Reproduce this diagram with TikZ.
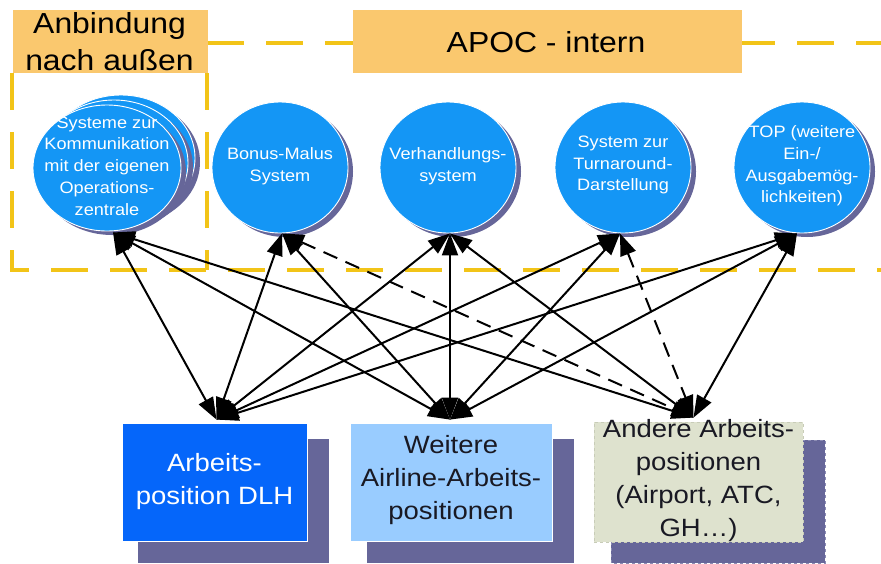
\documentclass[tikz,border=0pt]{standalone}
\usepackage{fontspec}
\setmainfont{Liberation Sans}[FakeStretch=1.1]
\usetikzlibrary{arrows.meta,shapes.geometric,calc}
\definecolor{circfill}{RGB}{20,150,245}
\definecolor{shad}{RGB}{102,102,153}
\definecolor{dlh}{RGB}{5,102,250}
\definecolor{weit}{RGB}{153,204,255}
\definecolor{andr}{RGB}{222,226,206}
\definecolor{labfill}{RGB}{250,200,110}
\definecolor{dashy}{RGB}{242,196,24}
\definecolor{darktext}{RGB}{25,25,35}
\definecolor{andrline}{RGB}{200,204,184}
\definecolor{shadline}{RGB}{140,140,180}
\tikzset{
  frame/.style={draw=dashy, line width=4.5pt, dash pattern=on 37pt off 22pt},
  labbox/.style={fill=labfill},
  labtext/.style={anchor=base, inner sep=0pt, text=black, font=\fontsize{29}{37}\selectfont},
  sysc/.style={ellipse, fill=circfill, draw=white, line width=0.9pt, inner sep=0pt,
               minimum width=136pt, minimum height=131pt},
  sysc1/.style={sysc, minimum width=148pt, minimum height=126pt},
  systext/.style={inner sep=0pt, align=center, text=white, font=\fontsize{16.5}{21.7}\selectfont},
  posbox/.style={rectangle, inner sep=0pt, draw=white, line width=0.8pt},
  postext/.style={inner sep=0pt, align=center, font=\fontsize{25}{33}\selectfont},
  link/.style={line width=2pt, {Triangle[length=22pt,width=16pt]}-{Triangle[length=22pt,width=16pt]}},
  dlink/.style={link, dash pattern=on 15pt off 9pt},
}
\begin{document}
\begin{tikzpicture}[x=1pt,y=-1pt]
\useasboundingbox (0,0) rectangle (881,563);
% dashed frames
\draw[frame] (12,73) -- (12,270) -- (881,270);
\draw[frame] (207,73) -- (207,270);
\draw[frame] (207,43) -- (881,43);
% labels
\fill[labbox] (13,10) rectangle (208,73);
\fill[labbox] (353,10) rectangle (742,73);
\node[labtext] (l1a) at (109.5,33) {Anbindung};
\node[labtext] (l1b) at (109.5,70) {nach außen};
\node[labtext] (l2) at (546,52) {APOC - intern};
% stacked circle (Systeme)
\fill[shad] (126,162) ellipse [x radius=74, y radius=63];
\node[sysc1] (c1c) at (121,158) {};
\fill[shad] (119,167) ellipse [x radius=74, y radius=63];
\node[sysc1] (c1b) at (114,163) {};
\fill[shad] (112,172) ellipse [x radius=74, y radius=63];
\node[sysc1] (c1) at (107,168) {};
\node[systext] (c1t) at (107,166) {Systeme zur\\Kommunikation\\mit der eigenen\\Operations-\\zentrale};
% other circles
\fill[shad] (285,171.5) ellipse [x radius=68, y radius=65.5];
\node[sysc] (c2) at (280,167.5) {};
\node[systext] (c2t) at (280,166) {Bonus-Malus\\System};
\fill[shad] (453,171.5) ellipse [x radius=68, y radius=65.5];
\node[sysc] (c3) at (448,167.5) {};
\node[systext] (c3t) at (448,166) {Verhandlungs-\\system};
\fill[shad] (628,171.5) ellipse [x radius=68, y radius=65.5];
\node[sysc] (c4) at (623,167.5) {};
\node[systext] (c4t) at (623,165) {System zur\\Turnaround-\\Darstellung};
\fill[shad] (807,171.5) ellipse [x radius=68, y radius=65.5];
\node[sysc] (c5) at (802,167.5) {};
\node[systext] (c5t) at (802,166) {TOP (weitere\\Ein-/\\Ausgabemög-\\lichkeiten)};
% bottom boxes with shadows
\fill[shad] (138,439) rectangle (329,563);
\node[posbox, fill=dlh, minimum width=185pt, minimum height=118pt] (b1) at (214.5,482) {};
\node[postext, text=white] (b1t) at (b1) {Arbeits-\\position DLH};
\fill[shad] (367,439) rectangle (574,563);
\node[posbox, fill=weit, minimum width=202pt, minimum height=118pt] (b2) at (451,482) {};
\node[postext, text=darktext] (b2t) at (451,480) {Weitere\\Airline-Arbeits-\\positionen};
\filldraw[fill=shad, draw=shadline, dashed, line width=0.8pt] (611,440) rectangle (825,563);
\node[posbox, fill=andr, draw=andrline, dashed, minimum width=209pt, minimum height=120pt] (b3) at (698.5,482) {};
\node[postext, text=darktext] (b3t) at (698.5,481) {Andere Arbeits-\\positionen\\(Airport, ATC,\\GH\ldots)};
% connector end points
\coordinate (t1) at ($(c1.south)+(6,1)$);
\coordinate (t2) at ($(c2.south)+(2,0)$);
\coordinate (t3) at ($(c3.south)+(2,0)$);
\coordinate (t4) at ($(c4.south)+(-3,0)$);
\coordinate (t5) at ($(c5.south)+(-5,0)$);
\coordinate (u1) at ($(b1.north)+(2,-3)$);
\coordinate (u2) at ($(b2.north)+(-1,-3)$);
\coordinate (u3) at ($(b3.north)+(-5,-4)$);
% connectors
\draw[link] (t1) -- (u1);
\draw[link] (t1) -- (u2);
\draw[link] (t1) -- (u3);
\draw[link] (t2) -- (u1);
\draw[link] (t2) -- (u2);
\draw[dlink] (t2) -- (u3);
\draw[link] (t3) -- (u1);
\draw[link] (t3) -- (u2);
\draw[link] (t3) -- (u3);
\draw[link] (t4) -- (u1);
\draw[link] (t4) -- (u2);
\draw[dlink] (t4) -- (u3);
\draw[link] (t5) -- (u1);
\draw[link] (t5) -- (u2);
\draw[link] (t5) -- (u3);
\end{tikzpicture}
\end{document}
